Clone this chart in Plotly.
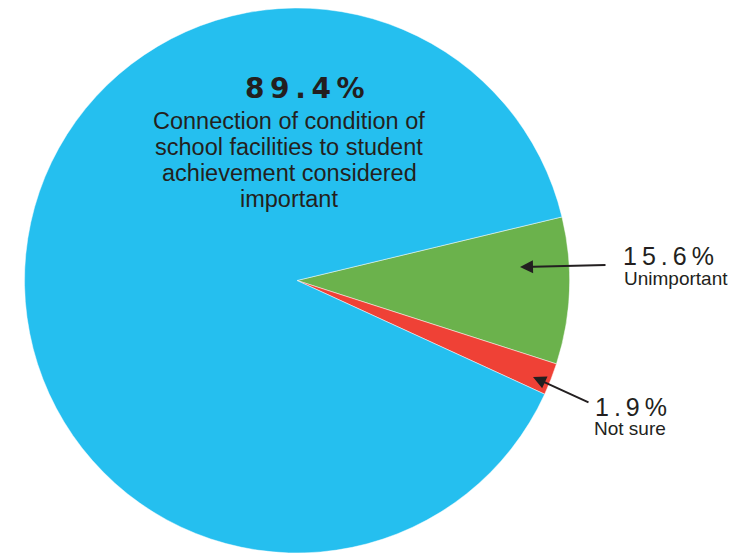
import plotly.graph_objects as go

# Data (slice sizes as drawn; labels as printed on the chart)
categories = ["Unimportant", "Not sure", "Important"]
slice_values = [8.7, 1.9, 89.4]
printed_labels = ["15.6%", "1.9%", "89.4%"]
colors = ["#6BB24C", "#EF4136", "#25BFEF"]
main_caption = ["Connection of condition of", "school facilities to student",
                "achievement considered", "important"]

# page body has an 8px margin; figure sized to fit the window
OFF = 8
W, H = 751 - OFF, 553 - OFF
TXT = "#231F20"

cx = 297 - OFF
R = H / 2
fig = go.Figure(go.Pie(
    labels=categories, values=slice_values, sort=False,
    direction="clockwise", rotation=76.5,
    marker=dict(colors=colors, line=dict(color="rgba(255,255,255,0.8)", width=0.6)),
    textinfo="none", hoverinfo="skip", showlegend=False,
    domain=dict(x=[(cx - R) / W, (cx + R) / W], y=[0, 1]),
))

def px(x, y):
    return (x - OFF) / W, 1 - (y - OFF) / H

ann = []
def text(x, y, s, size, family="Liberation Sans, Arial, sans-serif", bold=False):
    X, Y = px(x, y)
    if bold:
        s = "<b>" + s + "</b>"
    ann.append(dict(x=X, y=Y, xref="paper", yref="paper", text=s, showarrow=False,
                    xanchor="center", yanchor="middle",
                    font=dict(size=size, color=TXT, family=family)))

def arrow(hx, hy, tx, ty):
    X, Y = px(hx, hy)
    ann.append(dict(x=X, y=Y, xref="paper", yref="paper", text="", showarrow=True,
                    ax=tx - hx, ay=ty - hy, arrowhead=2, arrowsize=1.3, arrowwidth=2,
                    arrowcolor=TXT, standoff=0, startstandoff=0))

thin = "\u2009"
text(305, 88.5, thin.join(printed_labels[2]), 28, family="DejaVu Sans, sans-serif", bold=True)
for i, line in enumerate(main_caption):
    text(289, 121 + 26 * i, line, 23.5)

text(668, 256, thin.join(printed_labels[0]), 25)
text(676, 278, categories[0], 19)
text(631, 406.5, thin.join(printed_labels[1]), 25)
text(630, 428, categories[1], 19)

arrow(520, 267, 607, 265)
arrow(533, 377, 590, 403)

fig.update_layout(width=W, height=H, margin=dict(l=0, r=0, t=0, b=0, pad=0),
                  paper_bgcolor="white", plot_bgcolor="white", annotations=ann)
fig.write_html("out.html")
